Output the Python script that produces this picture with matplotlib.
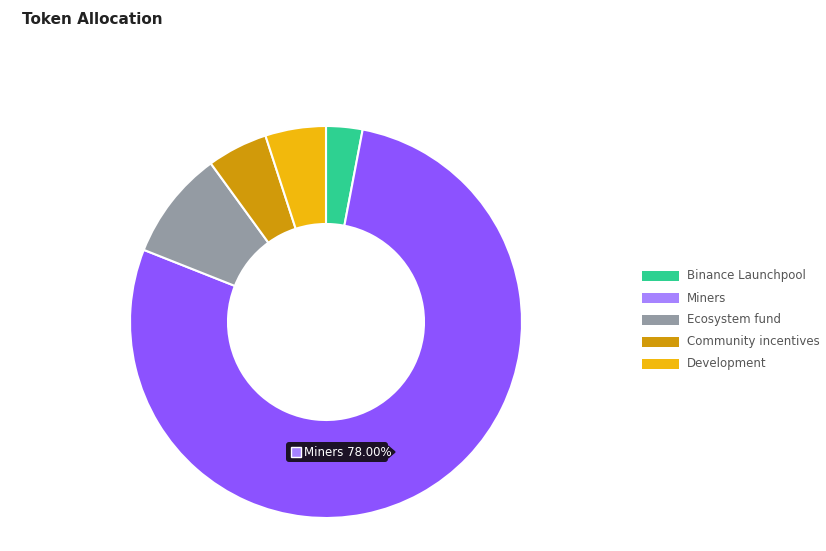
import matplotlib.pyplot as plt
from matplotlib.patches import Rectangle, FancyBboxPatch

labels = ["Binance Launchpool", "Miners", "Ecosystem fund", "Community incentives", "Development"]
shares = [3, 78, 9, 5, 5]
colors = ["#2ed191", "#8c52ff", "#949ba3", "#d19a0a", "#f2b90c"]
legend_colors = ["#2ed191", "#a683ff", "#949ba3", "#d19a0a", "#f2b90c"]

fig = plt.figure(figsize=(8.26, 5.51), dpi=100)
fig.text(22 / 826, 1 - 20 / 551, "Token Allocation", fontsize=11, fontweight="bold",
         color="#222222", va="center", ha="left")

ax = fig.add_axes([126 / 826, 29 / 551, 400 / 826, 400 / 551])
ax.pie(shares, colors=colors, startangle=90, counterclock=False, radius=196,
       wedgeprops=dict(width=98, edgecolor="white", linewidth=1.5))
ax.set_xlim(-200, 200)
ax.set_ylim(-200, 200)
ax.set_aspect("equal")
ax.axis("off")

# tooltip
tip = FancyBboxPatch((-40, -140), 102, 20, boxstyle="round,pad=0,rounding_size=3",
                     fc="#1c1226", ec="none", zorder=5)
ax.add_patch(tip)
ax.add_patch(Rectangle((-35, -135), 10, 10, fc="#a683ff", ec="white", lw=1, zorder=6))
ax.plot([62, 68, 62], [-126, -130, -134], color="#1c1226", zorder=5)
ax.fill([62, 69, 62], [-124, -130, -136], color="#1c1226", zorder=5)
ax.text(-22, -130, "Miners 78.00%", color="white", fontsize=8.5, va="center", ha="left", zorder=6)

# legend
for i, (lab, c) in enumerate(zip(labels, legend_colors)):
    y = 1 - (276 + i * 22) / 551
    fig.patches.append(Rectangle((642 / 826, y - 5 / 551), 37 / 826, 10 / 551,
                                 transform=fig.transFigure, fc=c, ec="none"))
    fig.text(687 / 826, y, lab, fontsize=8.5, color="#555555", va="center", ha="left")

plt.savefig("out.png", dpi=100)
